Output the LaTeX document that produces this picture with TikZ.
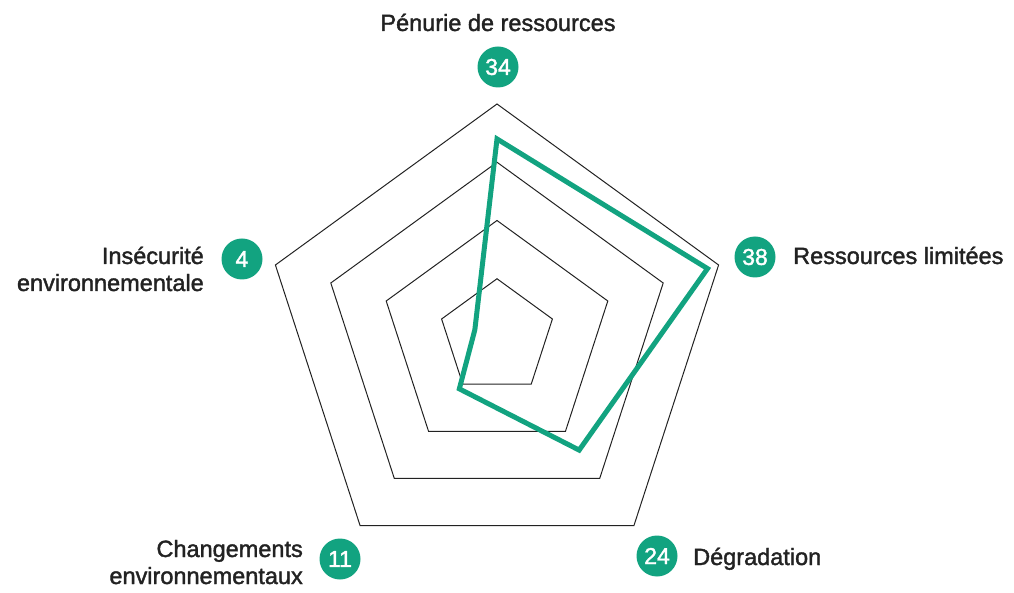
\documentclass[tikz,border=0pt]{standalone}
\usepackage{fontspec}
\setmainfont{Liberation Sans}
\newfontfamily\medfont{Liberation Sans}[FakeBold=1.6]
\definecolor{accent}{RGB}{18,163,128}
\definecolor{ink}{RGB}{34,34,34}
\begin{document}
\begin{tikzpicture}[x=1pt,y=1pt,
  gridline/.style={draw=ink, line width=1pt, line join=miter},
  badge/.style={circle, fill=accent, minimum size=41pt, inner sep=0pt, text=white, font=\medfont\fontsize{23}{26}\selectfont},
  lbl/.style={text=ink, inner sep=0pt, font=\medfont\fontsize{23.5}{27}\selectfont},
  series/.style={draw=accent, line width=5pt, line join=miter}]
\useasboundingbox (0,0) rectangle (1014,592);
\begin{scope}[shift={(497,255)}]
  \foreach \r in {58.25,116.5,174.75,233} {
    \draw[gridline] (90:\r) -- (18:\r) -- (-54:\r) -- (-126:\r) -- (162:\r) -- cycle;
  }
  \coordinate (p1) at (90:198.05);
  \coordinate (p2) at (18:221.35);
  \coordinate (p3) at (-54:139.8);
  \coordinate (p4) at (-126:64.075);
  \coordinate (p5) at (162:23.3);
  \draw[series] (p1) -- (p2) -- (p3) -- (p4) -- (p5) -- cycle;
\end{scope}
% labels
\node[lbl, anchor=base] (t34) at (498,561) {Pénurie de ressources};
\node[badge] (b34) at (498,525) {34};
\node[badge] (b38) at (755,335) {38};
\node[lbl, anchor=base west] (t38) at (793,328) {Ressources limitées};
\node[badge] (b24) at (657,36) {24};
\node[lbl, anchor=base west] (t24) at (693,27) {Dégradation};
\node[badge] (b11) at (340,33) {11};
\node[lbl, anchor=base east] (t11a) at (303,35) {Changements};
\node[lbl, anchor=base east] (t11b) at (303,8) {environnementaux};
\node[badge] (b4) at (242,333) {4};
\node[lbl, anchor=base east] (t4a) at (204,328) {Insécurité};
\node[lbl, anchor=base east] (t4b) at (204,301) {environnementale};
\end{tikzpicture}
\end{document}
